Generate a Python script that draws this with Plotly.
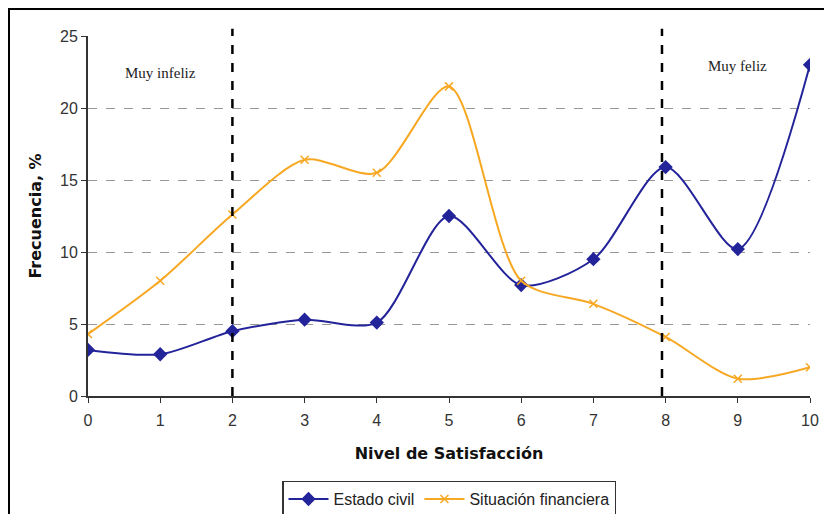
import plotly.graph_objects as go

niveles = [0, 1, 2, 3, 4, 5, 6, 7, 8, 9, 10]
estado_civil = [3.2, 2.9, 4.5, 5.3, 5.1, 12.5, 7.7, 9.5, 15.9, 10.2, 23.0]
situacion_financiera = [4.3, 8.0, 12.6, 16.4, 15.5, 21.5, 8.0, 6.4, 4.1, 1.2, 2.0]
cortes = [2, 7.95]
etiquetas = [("Muy infeliz", 1.0, 22.4), ("Muy feliz", 9.0, 22.95)]

# the page adds an 8px body margin, so layout is shifted by 8px
W, H = 832, 514
L, T = 80, 28
PW, PH = 722, 360
R = W - L - PW
B = H - T - PH

fig = go.Figure()

fig.add_trace(go.Scatter(
    x=niveles, y=estado_civil, name="Estado civil",
    mode="lines+markers",
    line=dict(color="#23239a", width=2, shape="spline", smoothing=0.8),
    marker=dict(symbol="diamond", size=11, color="#23239a"),
))
fig.add_trace(go.Scatter(
    x=niveles, y=situacion_financiera, name="Situación financiera",
    mode="lines+markers",
    line=dict(color="#f7a823", width=2, shape="spline", smoothing=0.8),
    marker=dict(symbol="x-thin", size=8, color="#f7a823",
                line=dict(color="#f7a823", width=1.5)),
))

# vertical dashed separators
for c in cortes:
    fig.add_shape(type="line", xref="x", yref="paper", x0=c, x1=c, y0=0, y1=1.02,
                  line=dict(color="black", width=2.5, dash="dash"))

for txt, xx, yy in etiquetas:
    fig.add_annotation(x=xx, y=yy, text=txt, showarrow=False,
                       font=dict(family="Liberation Serif", size=15, color="#222"))

# outer frame of the picture (figure pixel coords -> paper)
def px_x(p):
    return (p - L) / PW

def px_y(p):
    return (T + PH - p) / PH

fig.add_shape(type="line", xref="paper", yref="paper",
              x0=px_x(0.5), x1=px_x(0.5), y0=px_y(0), y1=px_y(H),
              line=dict(color="black", width=3))
fig.add_shape(type="line", xref="paper", yref="paper",
              x0=px_x(0), x1=px_x(W), y0=px_y(0.5), y1=px_y(0.5),
              line=dict(color="black", width=3))

tick_font = dict(family="Liberation Sans", size=16, color="#333")

fig.update_layout(
    width=W, height=H,
    margin=dict(l=L, r=R, t=T, b=B, autoexpand=False),
    paper_bgcolor="white", plot_bgcolor="white",
    showlegend=True,
    legend=dict(orientation="h", x=0.5, xanchor="center", y=-0.235, yanchor="top",
                bordercolor="#333", borderwidth=1.5,
                font=dict(family="Liberation Sans", size=16, color="#222"),
                itemwidth=40),
    xaxis=dict(
        range=[0, 10], tickmode="array", tickvals=niveles,
        showline=True, linecolor="#333", linewidth=2,
        ticks="outside", ticklen=5, tickcolor="#333",
        tickfont=tick_font, ticklabelstandoff=4,
        showgrid=False, zeroline=False,
        title=dict(text="<b>Nivel de Satisfacción</b>", standoff=20,
                   font=dict(family="DejaVu Sans", size=16, color="#111")),
    ),
    yaxis=dict(
        range=[0, 25], tickvals=[0, 5, 10, 15, 20, 25],
        showline=True, linecolor="#333", linewidth=2,
        ticks="outside", ticklen=5, tickcolor="#333",
        tickfont=tick_font,
        showgrid=True, gridcolor="#999", griddash="dash", gridwidth=1,
        zeroline=False,
        title=dict(text="<b>Frecuencia, %</b>", standoff=14,
                   font=dict(family="DejaVu Sans", size=16, color="#111")),
    ),
)

fig.write_html("out.html")
